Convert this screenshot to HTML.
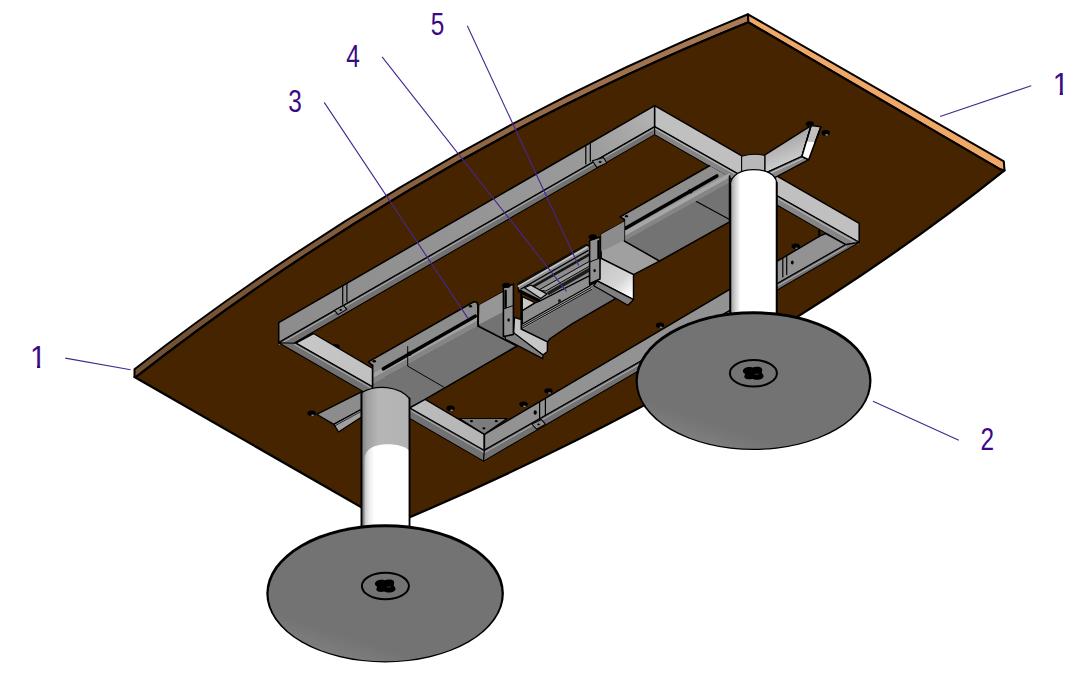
<!DOCTYPE html>
<html lang="en"><head><meta charset="utf-8"><title>Table assembly drawing</title>
<style>
html,body{margin:0;padding:0;background:#fff;}
body{width:1077px;height:682px;overflow:hidden;font-family:"Liberation Sans",sans-serif;}
svg{display:block;}
text{font-family:"Liberation Sans",sans-serif;}
</style></head><body>
<svg width="1077" height="682" viewBox="0 0 1077 682">
<defs>
<linearGradient id="colW" x1="0" x2="1" y1="0" y2="0"><stop offset="0" stop-color="#989898"/><stop offset="0.09" stop-color="#c8c8c8"/><stop offset="0.22" stop-color="#ffffff"/><stop offset="1" stop-color="#ffffff"/></linearGradient>
<linearGradient id="colW1" x1="0" x2="1" y1="0" y2="0"><stop offset="0" stop-color="#c4c4c4"/><stop offset="0.1" stop-color="#ececec"/><stop offset="0.22" stop-color="#ffffff"/><stop offset="1" stop-color="#ffffff"/></linearGradient>
<linearGradient id="colG" x1="0" x2="1" y1="0" y2="0"><stop offset="0" stop-color="#7e7e7e"/><stop offset="0.12" stop-color="#a0a0a0"/><stop offset="0.35" stop-color="#b6b6b6"/><stop offset="1" stop-color="#b2b2b2"/></linearGradient>
<linearGradient id="gUL" gradientUnits="userSpaceOnUse" x1="279" y1="330" x2="655" y2="115"><stop offset="0" stop-color="#8c8c8c"/><stop offset="0.82" stop-color="#9a9a9a"/><stop offset="1" stop-color="#b2b2b2"/></linearGradient>
<linearGradient id="gBox" gradientUnits="userSpaceOnUse" x1="600" y1="262" x2="630" y2="296"><stop offset="0" stop-color="#c4c4c4"/><stop offset="0.6" stop-color="#d4d4d4"/><stop offset="1" stop-color="#ffffff"/></linearGradient>
<linearGradient id="gTL" gradientUnits="userSpaceOnUse" x1="134" y1="370" x2="748" y2="16"><stop offset="0" stop-color="#6f4e32"/><stop offset="0.5" stop-color="#8a6240"/><stop offset="1" stop-color="#ab7c56"/></linearGradient>
<linearGradient id="gArm" gradientUnits="userSpaceOnUse" x1="780" y1="140" x2="790" y2="165"><stop offset="0" stop-color="#a8a8a8"/><stop offset="1" stop-color="#d0d0d0"/></linearGradient>
<linearGradient id="gLL" gradientUnits="userSpaceOnUse" x1="296" y1="340" x2="484" y2="445"><stop offset="0" stop-color="#c8c8c8"/><stop offset="1" stop-color="#b4b4b4"/></linearGradient>
<linearGradient id="disc" x1="0.7" x2="0.25" y1="0.2" y2="1"><stop offset="0" stop-color="#737373"/><stop offset="0.78" stop-color="#737373"/><stop offset="1" stop-color="#828282"/></linearGradient>
</defs>
<rect width="1077" height="682" fill="#ffffff"/>
<path d="M134.5,369.2 Q422,146 748,14.3 L748.4,22.3 Q422,153.8 136.5,376.6 L134.5,377 Z" fill="url(#gTL)" stroke="#000" stroke-width="2" stroke-linejoin="round" />
<path d="M748,14.3 L1003.8,161.4 L1004.5,170.4 L1000.6,169.6 L748.4,22.3 Z" fill="#f0a868" stroke="#000" stroke-width="2" stroke-linejoin="round" />
<path d="M136.5,376.6 Q422,153.8 748.4,22.3 L1000.6,169.6 L1004.5,170.4 Q748,375.4 391.9,524.8 L134.5,377 Z" fill="#472400" stroke="#000" stroke-width="2.2" stroke-linejoin="round" />
<ellipse cx="335.5" cy="346.8" rx="4.2" ry="2.8" fill="#000" stroke="#000" stroke-width="0" />
<ellipse cx="336.5" cy="348.8" rx="1.5" ry="0.8" fill="#8a8a8a" stroke="none" stroke-width="0" />
<ellipse cx="450.6" cy="408.3" rx="4.2" ry="2.8" fill="#000" stroke="#000" stroke-width="0" />
<ellipse cx="451.6" cy="410.3" rx="1.5" ry="0.8" fill="#8a8a8a" stroke="none" stroke-width="0" />
<ellipse cx="523.5" cy="404.3" rx="4.2" ry="2.8" fill="#000" stroke="#000" stroke-width="0" />
<ellipse cx="524.5" cy="406.3" rx="1.5" ry="0.8" fill="#8a8a8a" stroke="none" stroke-width="0" />
<ellipse cx="548.5" cy="391.0" rx="4.2" ry="2.8" fill="#000" stroke="#000" stroke-width="0" />
<ellipse cx="549.5" cy="393.0" rx="1.5" ry="0.8" fill="#8a8a8a" stroke="none" stroke-width="0" />
<ellipse cx="660.0" cy="325.2" rx="4.2" ry="2.8" fill="#000" stroke="#000" stroke-width="0" />
<ellipse cx="661.0" cy="327.2" rx="1.5" ry="0.8" fill="#8a8a8a" stroke="none" stroke-width="0" />
<ellipse cx="795.7" cy="246.3" rx="4.2" ry="2.8" fill="#000" stroke="#000" stroke-width="0" />
<ellipse cx="796.7" cy="248.3" rx="1.5" ry="0.8" fill="#8a8a8a" stroke="none" stroke-width="0" />
<ellipse cx="311.6" cy="413.2" rx="4.2" ry="2.8" fill="#000" stroke="#000" stroke-width="0" />
<ellipse cx="312.6" cy="415.2" rx="1.5" ry="0.8" fill="#8a8a8a" stroke="none" stroke-width="0" />
<ellipse cx="809.9" cy="124.0" rx="4.2" ry="2.8" fill="#000" stroke="#000" stroke-width="0" />
<ellipse cx="810.9" cy="126.0" rx="1.5" ry="0.8" fill="#8a8a8a" stroke="none" stroke-width="0" />
<ellipse cx="825.7" cy="132.9" rx="4.2" ry="2.8" fill="#000" stroke="#000" stroke-width="0" />
<ellipse cx="826.7" cy="134.9" rx="1.5" ry="0.8" fill="#8a8a8a" stroke="none" stroke-width="0" />
<ellipse cx="603" cy="144.5" rx="3.2" ry="2.0" fill="#000" stroke="#000" stroke-width="0" />
<polygon points="278.7,322.6 654.7,105.6 654.7,126.8 278.7,342.7" fill="url(#gUL)" stroke="#000" stroke-width="1.56" stroke-linejoin="round" />
<polygon points="278.7,342.7 654.7,126.8 654.7,134.6 292.0,344.3" fill="#727272" stroke="#000" stroke-width="1.08" stroke-linejoin="round" />
<polyline points="279.5,344.4 654.7,128.6" fill="none" stroke="#dcdcdc" stroke-width="0.6" stroke-linecap="round" stroke-linejoin="round" />
<polyline points="342.7,285.7 342.7,304.2" fill="none" stroke="#000" stroke-width="1.2" stroke-linecap="round" stroke-linejoin="round" />
<polyline points="346.9,283.2 346.9,301.7" fill="none" stroke="#000" stroke-width="1.2" stroke-linecap="round" stroke-linejoin="round" />
<polyline points="585.8,145.4 585.8,163.9" fill="none" stroke="#000" stroke-width="1.2" stroke-linecap="round" stroke-linejoin="round" />
<polyline points="590.3,142.8 590.3,161.3" fill="none" stroke="#000" stroke-width="1.2" stroke-linecap="round" stroke-linejoin="round" />
<polygon points="334.5,310.3 343.6,305.6 346.8,309.4 338.0,314.6" fill="#8a8a8a" stroke="#000" stroke-width="1.08" stroke-linejoin="round" />
<ellipse cx="340.7" cy="310.0" rx="1.2" ry="0.9" fill="#000" stroke="#000" stroke-width="0" />
<polygon points="592.3,160.7 603.5,157.4 606.8,163.0 596.8,167.4" fill="#8a8a8a" stroke="#000" stroke-width="1.08" stroke-linejoin="round" />
<ellipse cx="600.1" cy="161.9" rx="1.5" ry="1.0" fill="#000" stroke="#000" stroke-width="0" />
<polygon points="654.7,105.6 859.2,223.4 859.2,242.4 654.7,126.8" fill="#c0c0c0" stroke="#000" stroke-width="1.56" stroke-linejoin="round" />
<polygon points="654.7,126.8 859.2,242.4 845.8,244.6 654.7,134.6" fill="#858585" stroke="#000" stroke-width="1.08" stroke-linejoin="round" />
<polyline points="655.5,128.9 858.0,244.0" fill="none" stroke="#e4e4e4" stroke-width="0.6" stroke-linecap="round" stroke-linejoin="round" />
<polygon points="295.9,343.2 313.5,333.5 484.4,434.3 484.4,450.6" fill="url(#gLL)" stroke="#000" stroke-width="1.44" stroke-linejoin="round" />
<polygon points="278.7,342.7 295.9,343.2 484.4,450.6 483.6,461.1" fill="#727272" stroke="#000" stroke-width="1.08" stroke-linejoin="round" />
<polyline points="294.5,344.4 483.9,452.4" fill="none" stroke="#dcdcdc" stroke-width="0.6" stroke-linecap="round" stroke-linejoin="round" />
<polygon points="484.4,434.3 484.4,450.2 845.8,244.6 825.7,233.5 819.6,236.2" fill="#929292" stroke="#000" stroke-width="1.44" stroke-linejoin="round" />
<polygon points="484.4,450.2 483.6,461.1 859.2,242.4 845.8,244.6" fill="#727272" stroke="#000" stroke-width="1.08" stroke-linejoin="round" />
<polyline points="485.2,452.2 846.5,246.6" fill="none" stroke="#dcdcdc" stroke-width="0.6" stroke-linecap="round" stroke-linejoin="round" />
<polyline points="819.2,230.2 819.2,236.4" fill="none" stroke="#000" stroke-width="1.92" stroke-linecap="round" stroke-linejoin="round" />
<polyline points="539.6,401.7 539.6,419.2" fill="none" stroke="#000" stroke-width="1.2" stroke-linecap="round" stroke-linejoin="round" />
<polyline points="545.4,398.2 545.4,415.7" fill="none" stroke="#000" stroke-width="1.2" stroke-linecap="round" stroke-linejoin="round" />
<polyline points="782.8,257.9 782.8,276.9" fill="none" stroke="#000" stroke-width="1.2" stroke-linecap="round" stroke-linejoin="round" />
<polyline points="786.7,255.6 786.7,274.6" fill="none" stroke="#000" stroke-width="1.2" stroke-linecap="round" stroke-linejoin="round" />
<polygon points="531.8,424.0 541.5,419.6 545.6,424.3 536.5,429.2" fill="#8a8a8a" stroke="#000" stroke-width="1.08" stroke-linejoin="round" />
<ellipse cx="538.6" cy="424.4" rx="1.3" ry="0.9" fill="#000" stroke="#000" stroke-width="0" />
<ellipse cx="535.2" cy="412.5" rx="1.6" ry="2.2" fill="#000" stroke="#000" stroke-width="0" />
<ellipse cx="792.3" cy="262.4" rx="1.4" ry="2.0" fill="#000" stroke="#000" stroke-width="0" />
<polygon points="459.3,418.5 507.0,418.5 484.4,434.3" fill="#7c7c7c" stroke="#000" stroke-width="1.2" stroke-linejoin="round" />
<ellipse cx="471.5" cy="421.2" rx="1.5" ry="1.1" fill="#000" stroke="#000" stroke-width="0" />
<ellipse cx="496.3" cy="421.2" rx="1.5" ry="1.1" fill="#000" stroke="#000" stroke-width="0" />
<ellipse cx="483.9" cy="428.3" rx="1.5" ry="1.1" fill="#000" stroke="#000" stroke-width="0" />
<polyline points="484.4,434.3 484.4,450.2" fill="none" stroke="#000" stroke-width="1.32" stroke-linecap="round" stroke-linejoin="round" />
<polygon points="372.6,383.6 477.9,326.0 517.1,346.0 423.7,400.1 410.3,407.5 372.6,402.0" fill="#737373" stroke="none" stroke-width="0.0" stroke-linejoin="round" />
<polyline points="477.9,326.0 517.1,346.0 423.7,400.1 410.3,407.5" fill="none" stroke="#000" stroke-width="1.56" stroke-linecap="round" stroke-linejoin="round" />
<polygon points="368.4,361.9 473.7,301.7 476.8,302.2 477.9,305.1 477.9,326.0 372.6,383.6 372.6,365.3" fill="#8c8c8c" stroke="none" stroke-width="0.0" stroke-linejoin="round" />
<polyline points="372.6,365.3 368.4,361.9 473.7,301.7 476.8,302.2 477.9,305.1" fill="none" stroke="#000" stroke-width="1.56" stroke-linecap="round" stroke-linejoin="round" />
<polygon points="372.6,373.6 477.9,316.0 477.9,320.6 372.6,378.2" fill="#a2a2a2" stroke="none" stroke-width="0.0" stroke-linejoin="round" />
<polygon points="372.6,378.2 477.9,320.6 477.9,326.0 372.6,383.6" fill="#858585" stroke="none" stroke-width="0.0" stroke-linejoin="round" />
<polyline points="383.4,368.8 475.2,316.2" fill="none" stroke="#000" stroke-width="3.5999999999999996" stroke-linecap="round" stroke-linejoin="round" />
<ellipse cx="409.3" cy="353.8" rx="2.3" ry="2.3" fill="#000" stroke="#000" stroke-width="0" />
<ellipse cx="374.2" cy="361.3" rx="1.8" ry="1.3" fill="#000" stroke="#000" stroke-width="0" />
<ellipse cx="470.5" cy="306.2" rx="1.6" ry="1.2" fill="#000" stroke="#000" stroke-width="0" />
<polyline points="372.6,365.3 372.6,388.0" fill="none" stroke="#000" stroke-width="1.68" stroke-linecap="round" stroke-linejoin="round" />
<polyline points="407.7,346.5 407.7,366.1 443.6,387.0" fill="none" stroke="#000" stroke-width="0.96" stroke-linecap="round" stroke-linejoin="round" />
<polyline points="477.9,305.1 477.9,326.0" fill="none" stroke="#000" stroke-width="1.68" stroke-linecap="round" stroke-linejoin="round" />
<polygon points="624.3,241.1 729.6,182.6 729.6,221.9 659.4,261.1" fill="#737373" stroke="none" stroke-width="0.0" stroke-linejoin="round" />
<polyline points="624.3,241.1 659.4,261.1 729.6,221.9" fill="none" stroke="#000" stroke-width="1.56" stroke-linecap="round" stroke-linejoin="round" />
<polyline points="693.6,200.1 729.6,219.4" fill="none" stroke="#000" stroke-width="1.08" stroke-linecap="round" stroke-linejoin="round" />
<polygon points="620.1,216.9 709.5,165.8 729.6,177.2 729.6,182.6 624.3,241.1 624.3,219.5" fill="#8e8e8e" stroke="none" stroke-width="0.0" stroke-linejoin="round" />
<polyline points="624.3,219.5 620.1,216.9 709.5,165.8" fill="none" stroke="#000" stroke-width="1.56" stroke-linecap="round" stroke-linejoin="round" />
<polygon points="624.3,231.6 729.6,172.9 729.6,177.5 624.3,236.3" fill="#a6a6a6" stroke="none" stroke-width="0.0" stroke-linejoin="round" />
<polygon points="624.3,236.3 729.6,177.5 729.6,182.6 624.3,241.1" fill="#858585" stroke="none" stroke-width="0.0" stroke-linejoin="round" />
<polyline points="625.5,228.2 716.8,176.0" fill="none" stroke="#000" stroke-width="3.5999999999999996" stroke-linecap="round" stroke-linejoin="round" />
<ellipse cx="690.3" cy="191.2" rx="2.3" ry="2.3" fill="#000" stroke="#000" stroke-width="0" />
<ellipse cx="626.5" cy="216.2" rx="1.6" ry="1.2" fill="#000" stroke="#000" stroke-width="0" />
<polyline points="624.3,219.5 624.3,241.1" fill="none" stroke="#000" stroke-width="1.68" stroke-linecap="round" stroke-linejoin="round" />
<polyline points="729.6,176.0 729.6,223.0" fill="none" stroke="#000" stroke-width="1.68" stroke-linecap="round" stroke-linejoin="round" />
<polygon points="479.4,305.0 503.4,291.7 504.3,336.0 517.1,346.0 478.7,326.0" fill="#737373" stroke="#000" stroke-width="1.32" stroke-linejoin="round" />
<polygon points="479.4,305.0 503.4,291.7 503.8,311.5 479.0,324.5" fill="#969696" stroke="none" stroke-width="0.0" stroke-linejoin="round" />
<polygon points="601.2,234.2 624.3,221.5 624.3,241.1 659.4,261.1 633.5,274.6 601.2,258.4" fill="#a0a0a0" stroke="#000" stroke-width="1.32" stroke-linejoin="round" />
<polygon points="601.2,234.2 624.3,221.5 624.3,240.2 601.2,251.5" fill="#8c8c8c" stroke="none" stroke-width="0.0" stroke-linejoin="round" />
<polygon points="521.5,323.5 589.7,285.0 597.2,281.5 615.4,298.6 572.0,323.9 550.2,338.5 547.4,342.2 521.5,329.3" fill="#737373" stroke="#000" stroke-width="1.44" stroke-linejoin="round" />
<polygon points="517.9,283.6 586.1,244.6 589.6,246.5 589.6,276.0 539.6,301.2 518.5,291.5" fill="#8c8c8c" stroke="#000" stroke-width="1.2" stroke-linejoin="round" />
<polyline points="518.5,286.3 587.0,247.3" fill="none" stroke="#c4c4c4" stroke-width="1.68" stroke-linecap="round" stroke-linejoin="round" />
<polyline points="519.0,284.2 586.3,245.6" fill="none" stroke="#000" stroke-width="1.08" stroke-linecap="round" stroke-linejoin="round" />
<polyline points="521.0,289.0 588.0,250.6" fill="none" stroke="#000" stroke-width="1.32" stroke-linecap="round" stroke-linejoin="round" />
<polyline points="532.0,287.2 589.0,254.6" fill="none" stroke="#141414" stroke-width="2.52" stroke-linecap="round" stroke-linejoin="round" />
<polygon points="538.5,290.2 589.6,261.2 589.6,266.0 545.8,291.0" fill="#9c9c9c" stroke="#000" stroke-width="0.96" stroke-linejoin="round" />
<polyline points="549.0,293.0 589.5,269.6" fill="none" stroke="#1c1c1c" stroke-width="3.5999999999999996" stroke-linecap="round" stroke-linejoin="round" />
<polyline points="519.5,290.8 539.6,300.8" fill="none" stroke="#000" stroke-width="3.12" stroke-linecap="round" stroke-linejoin="round" />
<polygon points="524.5,287.8 530.7,285.0 546.8,293.9 540.7,298.4" fill="#c2c2c2" stroke="#000" stroke-width="1.2" stroke-linejoin="round" />
<polygon points="522.3,324.0 589.7,286.1 593.0,289.0 522.5,329.2" fill="#a4a4a4" stroke="none" stroke-width="0.0" stroke-linejoin="round" />
<polygon points="522.3,310.7 535.1,302.9 539.6,301.2 589.7,275.6 589.7,286.1 522.3,324.0" fill="#8e8e8e" stroke="#000" stroke-width="1.2" stroke-linejoin="round" />
<polygon points="522.3,296.7 535.1,302.6 522.3,310.4" fill="#c8c8c8" stroke="#000" stroke-width="1.2" stroke-linejoin="round" />
<polyline points="521.2,293.4 521.2,329.0" fill="none" stroke="#000" stroke-width="1.7999999999999998" stroke-linecap="round" stroke-linejoin="round" />
<polyline points="522.5,326.0 591.0,287.6" fill="none" stroke="#000" stroke-width="0.96" stroke-linecap="round" stroke-linejoin="round" />
<polyline points="522.5,328.0 592.0,289.2" fill="none" stroke="#000" stroke-width="0.96" stroke-linecap="round" stroke-linejoin="round" />
<ellipse cx="559.5" cy="301.0" rx="1.6" ry="1.9" fill="#222" stroke="#000" stroke-width="0" />
<polygon points="600.0,257.9 633.5,274.6 633.5,299.6 597.2,280.8" fill="url(#gBox)" stroke="#000" stroke-width="1.44" stroke-linejoin="round" />
<polygon points="597.2,280.8 633.5,299.6 627.9,305.2 593.8,285.7" fill="#808080" stroke="#000" stroke-width="1.32" stroke-linejoin="round" />
<polygon points="514.5,317.3 521.2,319.6 521.2,329.0 547.4,341.9 547.4,351.5 543.0,355.0 513.4,334.0" fill="#c6c6c6" stroke="#000" stroke-width="1.44" stroke-linejoin="round" />
<polygon points="505.0,335.7 513.4,332.5 543.0,355.0 542.7,358.6 505.5,339.2" fill="#808080" stroke="#000" stroke-width="1.2" stroke-linejoin="round" />
<polygon points="503.4,287.5 513.4,284.3 513.4,334.5 503.4,336.5" fill="#909090" stroke="#000" stroke-width="1.56" stroke-linejoin="round" />
<polyline points="505.6,291.0 505.6,307.0" fill="none" stroke="#000" stroke-width="2.4" stroke-linecap="round" stroke-linejoin="round" />
<polyline points="503.4,309.0 513.4,305.5" fill="none" stroke="#000" stroke-width="0.96" stroke-linecap="round" stroke-linejoin="round" />
<ellipse cx="508.6" cy="320.0" rx="1.2" ry="1.7" fill="#000" stroke="#000" stroke-width="0" />
<polygon points="589.6,240.5 600.0,237.0 600.0,279.0 589.6,283.6" fill="#909090" stroke="#000" stroke-width="1.56" stroke-linejoin="round" />
<polyline points="598.4,241.0 598.4,258.0" fill="none" stroke="#000" stroke-width="2.16" stroke-linecap="round" stroke-linejoin="round" />
<polyline points="589.6,262.0 600.0,258.0" fill="none" stroke="#000" stroke-width="0.96" stroke-linecap="round" stroke-linejoin="round" />
<ellipse cx="594.6" cy="270.6" rx="1.2" ry="1.7" fill="#000" stroke="#000" stroke-width="0" />
<ellipse cx="506.4" cy="285.4" rx="4.2" ry="2.6" fill="#000" stroke="#000" stroke-width="0" />
<ellipse cx="592.8" cy="236.8" rx="4.2" ry="2.6" fill="#000" stroke="#000" stroke-width="0" />
<polygon points="316.7,414.3 361.5,391.8 361.5,409.3 333.8,424.4" fill="#8c8c8c" stroke="#000" stroke-width="1.32" stroke-linejoin="round" />
<polygon points="333.8,424.4 361.5,409.3 361.5,416.9 338.5,431.9" fill="#a0a0a0" stroke="#000" stroke-width="1.2" stroke-linejoin="round" />
<polyline points="334.6,426.0 361.5,411.2" fill="none" stroke="#000" stroke-width="0.72" stroke-linecap="round" stroke-linejoin="round" />
<path d="M361.5,392.8 Q372,386.2 387,387.6 Q402,389.4 409.5,398.5 L409.5,530 L361.5,530 Z" fill="url(#colG)" stroke="#000" stroke-width="1.2" stroke-linejoin="round" />
<path d="M364.6,530 L364.6,458 C365.5,449 374,444.3 387,444.3 C398,444.3 407,447 409.5,451.5 L409.5,530 Z" fill="url(#colW1)" stroke="none" stroke-width="1" stroke-linejoin="round" />
<polyline points="361.5,392.8 361.5,530.0" fill="none" stroke="#000" stroke-width="1.7999999999999998" stroke-linecap="round" stroke-linejoin="round" />
<polyline points="409.5,398.5 409.5,530.0" fill="none" stroke="#000" stroke-width="1.7999999999999998" stroke-linecap="round" stroke-linejoin="round" />
<path d="M741.6,156.2 Q753.5,152.6 765.4,155.6 L765.4,182 L741.6,182 Z" fill="#b8b8b8" stroke="#000" stroke-width="1.1" stroke-linejoin="round" />
<polygon points="764.9,154.8 811.1,125.6 801.9,156.5 764.9,173.4" fill="url(#gArm)" stroke="#000" stroke-width="1.44" stroke-linejoin="round" />
<polygon points="764.9,173.4 801.9,156.5 808.7,159.6 771.0,179.6" fill="#8a8a8a" stroke="#000" stroke-width="1.2" stroke-linejoin="round" />
<polyline points="766.0,175.2 803.0,158.4" fill="none" stroke="#e0e0e0" stroke-width="0.72" stroke-linecap="round" stroke-linejoin="round" />
<polygon points="811.1,125.6 820.9,126.8 808.7,159.6 801.9,156.5" fill="#c0c0c0" stroke="#000" stroke-width="1.44" stroke-linejoin="round" />
<polygon points="806.4,141.6 815.2,142.2 808.7,159.6 801.9,156.5" fill="#ffffff" stroke="none" stroke-width="0.0" stroke-linejoin="round" />
<polyline points="811.1,125.6 801.9,156.5 808.7,159.6 820.9,126.8" fill="none" stroke="#000" stroke-width="1.44" stroke-linecap="round" stroke-linejoin="round" />
<path d="M730.3,185 C731,175 741,169.6 753.5,169.6 C766,169.6 775.5,174 776.7,182.5 L776.7,320 L730.3,320 Z" fill="url(#colW)" stroke="#000" stroke-width="1.3" stroke-linejoin="round" />
<polyline points="730.3,185.0 730.3,320.0" fill="none" stroke="#000" stroke-width="1.92" stroke-linecap="round" stroke-linejoin="round" />
<polyline points="776.7,182.5 776.7,320.0" fill="none" stroke="#000" stroke-width="1.92" stroke-linecap="round" stroke-linejoin="round" />
<ellipse cx="385.1" cy="593.3" rx="118.8" ry="69.1" fill="#000" stroke="none" stroke-width="0" />
<ellipse cx="385.1" cy="594.1999999999999" rx="116.5" ry="67.0" fill="url(#disc)" stroke="none" stroke-width="0" />
<ellipse cx="385.4" cy="586" rx="23.5" ry="13.3" fill="none" stroke="#000" stroke-width="2.0" />
<path transform="translate(385.4,586)" d="M-10.5,-2.5 C-10,-5.5 -5,-7 -1,-5.8 C3,-7 8,-6.5 8.5,-4.5 C9.5,-3.5 8,-1.5 8.5,0 C10.5,1.5 10.8,3.5 9,5 C6,7 1,6.8 -1,5.5 C-4,6.5 -8.5,6 -9,4 C-9.5,2.5 -8,1.5 -8.5,0.5 C-10,-0.5 -10.8,-1.5 -10.5,-2.5 Z" fill="#000"/>
<path transform="translate(385.4,586)" d="M1.5,1.2 L5.5,0.8" stroke="#3a3a3a" stroke-width="0.9" fill="none"/>
<ellipse cx="753.5" cy="380.6" rx="118.0" ry="69.39999999999999" fill="#000" stroke="none" stroke-width="0" />
<ellipse cx="753.5" cy="381.5" rx="115.7" ry="67.3" fill="url(#disc)" stroke="none" stroke-width="0" />
<ellipse cx="753.4" cy="373.3" rx="23.5" ry="13.3" fill="none" stroke="#000" stroke-width="2.0" />
<path transform="translate(753.4,373.3)" d="M-10.5,-2.5 C-10,-5.5 -5,-7 -1,-5.8 C3,-7 8,-6.5 8.5,-4.5 C9.5,-3.5 8,-1.5 8.5,0 C10.5,1.5 10.8,3.5 9,5 C6,7 1,6.8 -1,5.5 C-4,6.5 -8.5,6 -9,4 C-9.5,2.5 -8,1.5 -8.5,0.5 C-10,-0.5 -10.8,-1.5 -10.5,-2.5 Z" fill="#000"/>
<path transform="translate(753.4,373.3)" d="M1.5,1.2 L5.5,0.8" stroke="#3a3a3a" stroke-width="0.9" fill="none"/>
<line x1="324.2" y1="102.4" x2="467.8" y2="318.1" stroke="#45268f" stroke-width="1.1"/>
<line x1="382.1" y1="56.9" x2="566.6" y2="291.5" stroke="#45268f" stroke-width="1.1"/>
<line x1="467.3" y1="25.7" x2="578.6" y2="265.5" stroke="#45268f" stroke-width="1.1"/>
<line x1="940.1" y1="116.5" x2="1031.2" y2="85.7" stroke="#45268f" stroke-width="1.1"/>
<line x1="65.3" y1="358.1" x2="130.6" y2="369.8" stroke="#45268f" stroke-width="1.1"/>
<line x1="873" y1="401.3" x2="958.8" y2="440.3" stroke="#45268f" stroke-width="1.1"/>
<text x="0" y="0" transform="translate(437.6,34.7) scale(0.8,1)" text-anchor="middle" font-size="30.5" fill="#3a0a86">5</text>
<text x="0" y="0" transform="translate(353,67.3) scale(0.8,1)" text-anchor="middle" font-size="30.5" fill="#3a0a86">4</text>
<text x="0" y="0" transform="translate(295,112.1) scale(0.8,1)" text-anchor="middle" font-size="30.5" fill="#3a0a86">3</text>
<clipPath id="c1_1"><path d="M1047.2,69.1 H1071.2 V91.89999999999999 H1062.9 V97.1 H1059.7 V91.89999999999999 H1047.2 Z"/></clipPath>
<g clip-path="url(#c1_1)"><text x="0" y="0" transform="translate(1060.7,95.1) scale(0.95,1)" text-anchor="middle" font-size="30.5" fill="#3a0a86">1</text></g>
<clipPath id="c1_2"><path d="M24.5,341.9 H48.5 V364.7 H40.2 V369.9 H37.0 V364.7 H24.5 Z"/></clipPath>
<g clip-path="url(#c1_2)"><text x="0" y="0" transform="translate(38.0,367.9) scale(0.95,1)" text-anchor="middle" font-size="30.5" fill="#3a0a86">1</text></g>
<text x="0" y="0" transform="translate(987.2,450.1) scale(0.8,1)" text-anchor="middle" font-size="30.5" fill="#3a0a86">2</text>
</svg>
</body></html>
